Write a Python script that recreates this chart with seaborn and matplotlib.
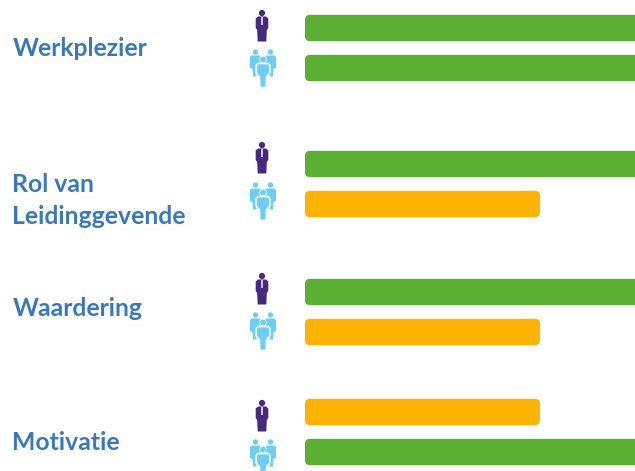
import pandas as pd
import seaborn as sns
import matplotlib.pyplot as plt
from matplotlib.patches import Circle, FancyBboxPatch, Polygon, Rectangle

sns.set_style('white')
plt.rcParams['font.family'] = ['Lato', 'DejaVu Sans']

# scores per row, the green ones run off the right side of the picture
groups = ['Manager', 'Team', 'Manager', 'Team', 'Manager', 'Team', 'Manager', 'Team']
scores = [345, 345, 345, 235, 345, 235, 235, 345]
levels = ['good', 'good', 'good', 'medium', 'good', 'medium', 'medium', 'good']
labels = ['Werkplezier', 'Rol van', 'Leidinggevende', 'Waardering', 'Motivatie']

# layout in pixels
row_y = [28, 68, 164, 204, 292, 332, 412, 452]
icon_top = [10, 49, 142, 182, 273, 312, 400, 439]
label_y = [48, 184, 216, 308, 442]

GREEN = '#5BB033'
ORANGE = '#FDB300'
PURPLE = '#44297F'
LIGHT = '#6CCDF5'
TEXT = '#3A78BE'

df = pd.DataFrame({'group': groups, 'score': scores, 'level': levels, 'row': row_y})

fig = plt.figure(figsize=(6.35, 4.71), dpi=100)

# full picture axes in pixels, for the labels and icons
ax = fig.add_axes([0, 0, 1, 1])
ax.set_xlim(0, 635)
ax.set_ylim(471, 0)
ax.axis('off')

# bars start at x=305
bar_ax = fig.add_axes([305 / 635, 0, 330 / 635, 1])
sns.barplot(data=df, x='score', y='row', hue='level', orient='h', native_scale=True,
            dodge=False, width=0.66, saturation=1, palette={'good': GREEN, 'medium': ORANGE},
            legend=False, ax=bar_ax)
bar_ax.set_xlim(0, 330)
bar_ax.set_ylim(471, 0)
bar_ax.axis('off')

# swap the seaborn rectangles for rounded ones
for p in list(bar_ax.patches):
    x, y, w, h = p.get_x(), p.get_y(), p.get_width(), p.get_height()
    if w == 0 or h == 0:
        p.remove()
        continue
    color = p.get_facecolor()
    p.remove()
    bar_ax.add_patch(FancyBboxPatch((x + 5, y + 5), w - 10, h - 10,
                                    boxstyle='round,pad=5,rounding_size=5',
                                    facecolor=color, edgecolor='none'))


def draw_man(cx, top):
    ax.add_patch(Circle((cx, top + 3), 3.1, color=PURPLE, lw=0))
    body = [(cx - 4, top + 6.5), (cx + 4, top + 6.5), (cx + 6.3, top + 8.5), (cx + 6.3, top + 18),
            (cx + 4.8, top + 20), (cx + 4.3, top + 31.5), (cx - 4.3, top + 31.5),
            (cx - 4.8, top + 20), (cx - 6.3, top + 18), (cx - 6.3, top + 8.5)]
    ax.add_patch(Polygon(body, closed=True, color=PURPLE, lw=0))
    ax.add_patch(Rectangle((cx - 0.7, top + 7), 1.4, 8, color='#C9C3DC', lw=0))


def draw_back(cx, top, side):
    # one of the two people behind, side is -1 for left and 1 for right
    ax.add_patch(Circle((cx + side * 7.5, top + 3), 2.7, color=LIGHT, lw=0))
    body = [(cx + side * 13, top + 8), (cx + side * 11.5, top + 6.5), (cx + side * 3, top + 6.5),
            (cx + side * 3, top + 16), (cx + side * 6.5, top + 20), (cx + side * 6.5, top + 27.5),
            (cx + side * 10, top + 27.5), (cx + side * 10.5, top + 20), (cx + side * 13, top + 19)]
    ax.add_patch(Polygon(body, closed=True, color=LIGHT, lw=0))


def draw_front(cx, top):
    halo = [(cx - 5, top + 14.5), (cx + 5, top + 14.5), (cx + 6.8, top + 16.5), (cx + 6.8, top + 24),
            (cx + 3.6, top + 28), (cx + 3.2, top + 38.5), (cx - 3.2, top + 38.5),
            (cx - 3.6, top + 28), (cx - 6.8, top + 24), (cx - 6.8, top + 16.5)]
    ax.add_patch(Polygon(halo, closed=True, facecolor=LIGHT, edgecolor='white', lw=1.2))
    ax.add_patch(Circle((cx, top + 10.5), 3.4, facecolor=LIGHT, edgecolor='white', lw=0.6))


def draw_team(cx, top):
    draw_back(cx, top, -1)
    draw_back(cx, top, 1)
    draw_front(cx, top)


for g, top in zip(groups, icon_top):
    if g == 'Manager':
        draw_man(262, top)
    else:
        draw_team(263, top)

for lab, y in zip(labels, label_y):
    ax.text(12.5, y, lab, color=TEXT, fontsize=17.8, fontweight='bold', va='center', ha='left')

fig.savefig('out.png', dpi=100)
